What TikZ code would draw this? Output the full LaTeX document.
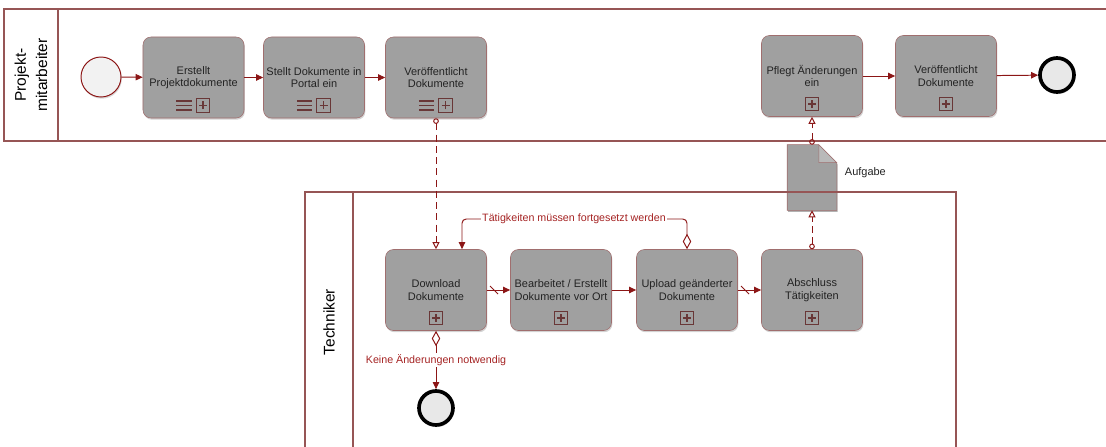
\documentclass[tikz,border=0pt]{standalone}
\usepackage{fontspec}
\setmainfont{Liberation Sans}
\usepackage{tikz}
\usetikzlibrary{arrows.meta,shadows}

\definecolor{flowred}{RGB}{140,22,22}
\definecolor{labelred}{RGB}{165,35,35}
\definecolor{poolline}{RGB}{150,85,85}
\definecolor{taskfill}{RGB}{160,160,160}
\definecolor{taskline}{RGB}{160,110,110}
\definecolor{markline}{RGB}{105,55,55}
\definecolor{tasktext}{RGB}{35,35,35}

\tikzset{
	pool/.style={draw=poolline,line width=1pt},
	task/.style={draw=taskline,fill=taskfill,rounded corners=0.2cm,minimum width=2.525cm,minimum height=2.025cm,
		align=center,text=tasktext,font=\fontsize{7.8}{8.8}\selectfont,inner sep=1pt,
		drop shadow={shadow xshift=0.6pt,shadow yshift=-1.2pt,opacity=0.35}},
	startev/.style={circle,draw=flowred,line width=0.7pt,fill={rgb,255:red,242;green,242;blue,242},minimum size=1cm,
		drop shadow={shadow xshift=0.6pt,shadow yshift=-1.2pt,opacity=0.3}},
	endev/.style={circle,draw=black,line width=2.6pt,fill={rgb,255:red,232;green,232;blue,232},minimum size=0.85cm,
		drop shadow={shadow xshift=0.6pt,shadow yshift=-1.5pt,opacity=0.35}},
	mbox/.style={draw=markline,line width=0.6pt,minimum size=0.34cm,inner sep=0pt,
		path picture={\draw[markline,line width=1.1pt]
			([xshift=-0.1cm]path picture bounding box.center) -- ([xshift=0.1cm]path picture bounding box.center)
			([yshift=-0.1cm]path picture bounding box.center) -- ([yshift=0.1cm]path picture bounding box.center);}},
	mlines/.style={minimum width=0.4cm,minimum height=0.4cm,inner sep=0pt,
		path picture={\foreach \dy in {-0.12,0,0.12}
			\draw[markline,line width=1.4pt] ([xshift=-0.19cm,yshift=\dy cm]path picture bounding box.center) -- ([xshift=0.19cm,yshift=\dy cm]path picture bounding box.center);}},
	seqflow/.style={draw=flowred,line width=0.7pt,-{Triangle[length=5pt,width=4.5pt]}},
	msgflow/.style={draw=flowred,line width=0.7pt,dash pattern=on 5pt off 3pt,
		{Circle[open,length=4pt,width=4pt,line width=0.7pt]}-{Triangle[open,length=5pt,width=5pt,line width=0.7pt]}},
	condflow/.style={seqflow,{Diamond[open,length=11pt,width=6pt,line width=0.7pt]}-{Triangle[length=5pt,width=4.5pt]}},
	condlabel/.style={text=labelred,font=\fontsize{7.6}{9}\selectfont,fill=white,inner sep=1pt},
	lanelabel/.style={rotate=90,align=center,text=black,font=\fontsize{11}{15}\selectfont},
	docshape/.style={minimum width=1.225cm,minimum height=1.625cm,inner sep=0pt}
}

\begin{document}
\begin{tikzpicture}[x=0.025cm,y=-0.025cm]
	\useasboundingbox (0,0) rectangle (1106,447);

	% data object first, the pool line runs over it
	\node[docshape] (doc) at (812,177.5) {};
	\fill[black,opacity=0.3] ([xshift=0.6pt,yshift=-1.2pt]doc.south west) -- ([xshift=0.6pt,yshift=-1.2pt]doc.north west)
		-- ([xshift=-0.45cm+0.6pt,yshift=-1.2pt]doc.north east) -- ([xshift=0.6pt,yshift=-0.45cm-1.2pt]doc.north east)
		-- ([xshift=0.6pt,yshift=-1.2pt]doc.south east) -- cycle;
	\draw[taskline,fill=taskfill] (doc.south west) -- (doc.north west) -- ([xshift=-0.45cm]doc.north east)
		-- ([yshift=-0.45cm]doc.north east) -- (doc.south east) -- cycle;
	\draw[taskline,fill={rgb,255:red,185;green,185;blue,185}] ([xshift=-0.45cm]doc.north east) -- ([xshift=-0.45cm,yshift=-0.45cm]doc.north east)
		-- ([yshift=-0.45cm]doc.north east) -- cycle;
	\node[anchor=west,text=tasktext,font=\fontsize{7.8}{9}\selectfont] (doclabel) at (840,173) {Aufgabe};

	% pools
	\draw[pool] (1115,9) -- (4,9) -- (4,141) -- (1115,141);
	\draw[pool] (58,9) -- (58,141);
	\node[lanelabel] (pmlabel) at (31,75) {Projekt-\\mitarbeiter};
	\draw[pool] (305,452) -- (305,192) -- (956,192) -- (956,452);
	\draw[pool] (353,192) -- (353,452);
	\node[lanelabel] (techlabel) at (329,322) {Techniker};

	% Projektmitarbeiter
	\node[startev] (start) at (101,77) {};
	\node[task] (erstellt) at (193.5,77.5) {Erstellt\\Projektdokumente};
	\node[task] (stellt) at (314,77.5) {Stellt Dokumente in\\Portal ein};
	\node[task] (veroeff) at (436,77.5) {Veröffentlicht\\Dokumente};
	\node[task] (pflegt) at (812,76) {Pflegt Änderungen\\ein};
	\node[task] (veroeffb) at (946,76) {Veröffentlicht\\Dokumente};
	\node[endev] (endtop) at (1057,75) {};

	\node[mlines] (erstellt-l) at ([xshift=-0.24cm,yshift=0.32cm]erstellt.south) {};
	\node[mbox] (erstellt-p) at ([xshift=0.24cm,yshift=0.32cm]erstellt.south) {};
	\node[mlines] (stellt-l) at ([xshift=-0.24cm,yshift=0.32cm]stellt.south) {};
	\node[mbox] (stellt-p) at ([xshift=0.24cm,yshift=0.32cm]stellt.south) {};
	\node[mlines] (veroeff-l) at ([xshift=-0.24cm,yshift=0.32cm]veroeff.south) {};
	\node[mbox] (veroeff-p) at ([xshift=0.24cm,yshift=0.32cm]veroeff.south) {};
	\node[mbox] (pflegt-p) at ([yshift=0.32cm]pflegt.south) {};
	\node[mbox] (veroeffb-p) at ([yshift=0.32cm]veroeffb.south) {};

	\draw[seqflow] (start) -- (erstellt);
	\draw[seqflow] (erstellt) -- (stellt);
	\draw[seqflow] (stellt) -- (veroeff);
	\draw[seqflow] (pflegt) -- (veroeffb);
	\draw[seqflow] (veroeffb) -- (endtop);

	% Techniker
	\node[task] (download) at (436,290) {Download\\Dokumente};
	\node[task] (bearb) at (561,290) {Bearbeitet / Erstellt\\Dokumente vor Ort};
	\node[task] (upload) at (687,290) {Upload geänderter\\Dokumente};
	\node[task] (abschluss) at (812,290) {Abschluss\\Tätigkeiten};
	\node[endev] (endbot) at (436,408) {};

	\node[mbox] (download-p) at ([yshift=0.32cm]download.south) {};
	\node[mbox] (bearb-p) at ([yshift=0.32cm]bearb.south) {};
	\node[mbox] (upload-p) at ([yshift=0.32cm]upload.south) {};
	\node[mbox] (abschluss-p) at ([yshift=0.32cm]abschluss.south) {};

	\draw[seqflow] (download) -- (bearb);
	\draw[flowred,line width=0.7pt] ([xshift=0.08cm,yshift=0.1cm]download.east) -- ++(8,8);
	\draw[seqflow] (bearb) -- (upload);
	\draw[seqflow] (upload) -- (abschluss);
	\draw[flowred,line width=0.7pt] ([xshift=0.08cm,yshift=0.1cm]upload.east) -- ++(8,8);

	\coordinate (looptop) at (462,219);
	\draw[condflow,rounded corners=3pt] (upload.north) |- (looptop) -- (looptop |- download.north);
	\node[condlabel] (looplabel) at (574,219) {Tätigkeiten müssen fortgesetzt werden};

	\draw[condflow] (download.south) -- (endbot.north);
	\node[condlabel] (keinelabel) at (436,360) {Keine Änderungen notwendig};

	% message flows
	\draw[msgflow] (veroeff.south) -- (download.north);
	\draw[msgflow] (abschluss.north) -- (doc.south);
	\draw[msgflow] (doc.north) -- (pflegt.south);
\end{tikzpicture}
\end{document}
